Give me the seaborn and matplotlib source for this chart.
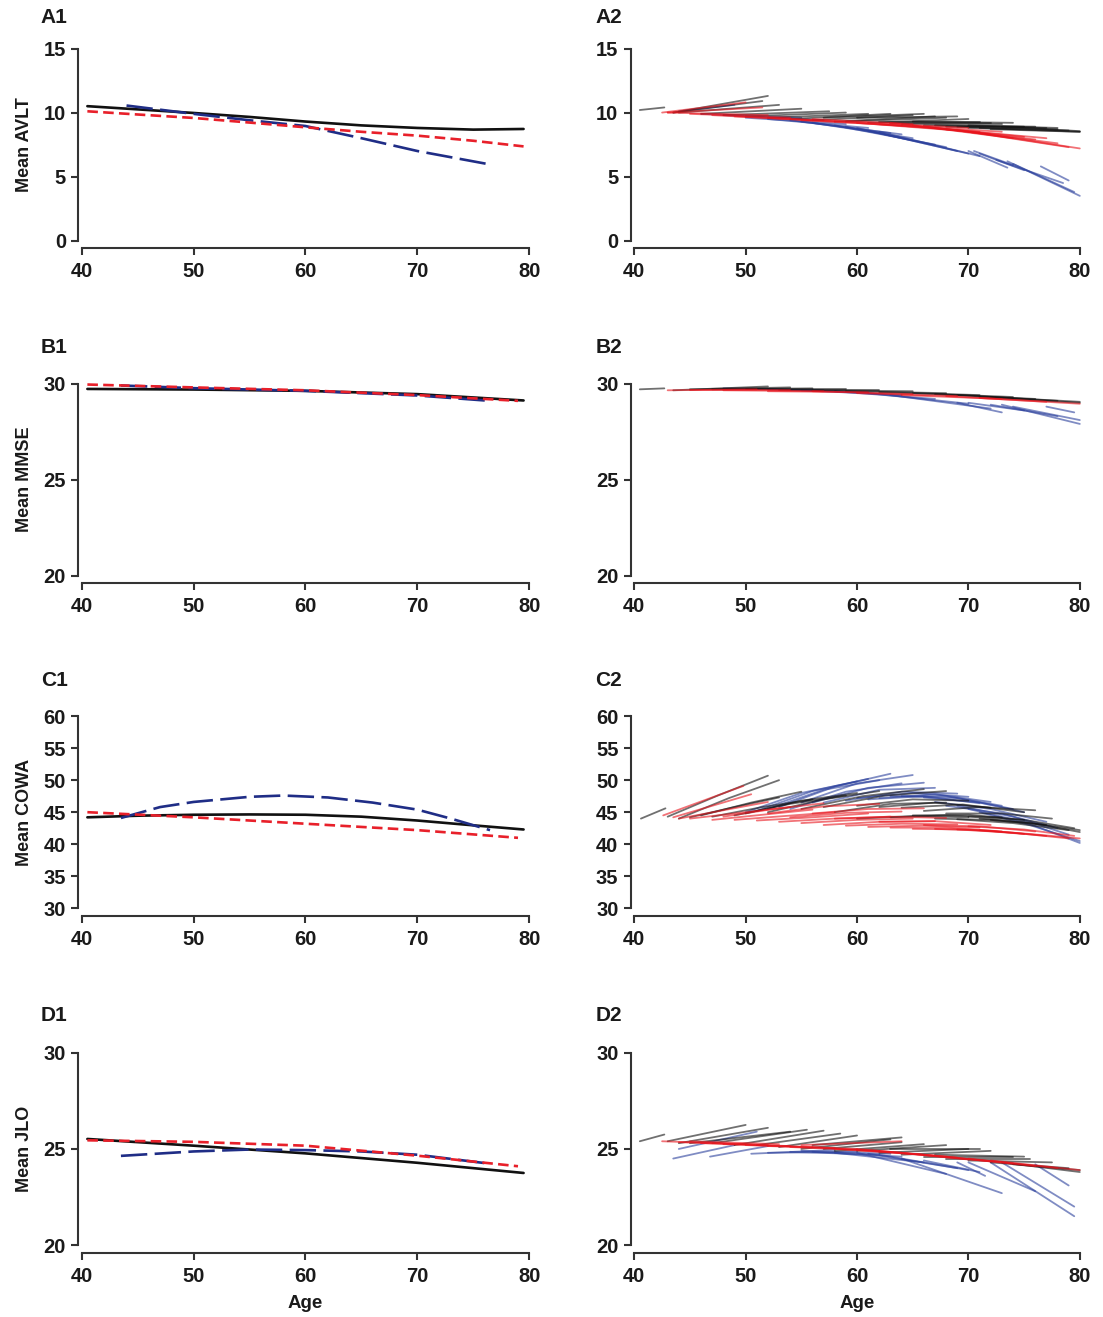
import pandas as pd
import seaborn as sns
import matplotlib.pyplot as plt

# ---------------- left column: group mean curves (ages, values) ----------------
A1_BLACK = ([40.5, 45, 50, 55, 60, 65, 70, 75, 79.5], [10.5, 10.25, 9.97, 9.66, 9.3, 9.0, 8.8, 8.67, 8.72])
A1_RED = ([40.5, 45, 50, 55, 60, 65, 70, 75, 79.5], [10.1, 9.85, 9.58, 9.22, 8.85, 8.5, 8.2, 7.8, 7.36])
A1_BLUE = ([44, 50, 55, 60, 65, 70, 76.5], [10.55, 9.9, 9.4, 8.95, 8.0, 7.0, 5.95])

B1_BLACK = ([40.5, 50, 60, 70, 79.5], [29.72, 29.69, 29.62, 29.45, 29.12])
B1_RED = ([40.5, 50, 60, 70, 79], [29.95, 29.8, 29.65, 29.4, 29.1])
B1_BLUE = ([43.5, 50, 60, 70, 76.5], [29.9, 29.76, 29.62, 29.38, 29.1])

C1_BLACK = ([40.5, 45, 50, 55, 60, 65, 70, 75, 79.5], [44.2, 44.45, 44.6, 44.65, 44.6, 44.3, 43.7, 42.95, 42.3])
C1_RED = ([40.5, 50, 60, 70, 79], [45.0, 44.2, 43.2, 42.2, 41.0])
C1_BLUE = ([43.5, 47, 50, 55, 58, 62, 66, 70, 73, 76.5], [44.1, 45.8, 46.6, 47.4, 47.6, 47.3, 46.5, 45.4, 44.0, 42.2])

D1_BLACK = ([40.5, 50, 60, 70, 79.5], [25.52, 25.17, 24.77, 24.28, 23.75])
D1_RED = ([40.5, 50, 60, 70, 79], [25.45, 25.37, 25.17, 24.65, 24.1])
D1_BLUE = ([43.5, 50, 55, 60, 65, 70, 76.5], [24.64, 24.87, 24.97, 24.94, 24.87, 24.7, 24.23])

# ---------------- right column: individual trajectories (ages, values) ----------------
A2_BLACK = [
    ((40.5, 42.7), (10.2, 10.4)), ((43.5, 52.0), (10.0, 11.3)), ((43.5, 51.5), (10.0, 10.9)),
    ((44, 53), (10.0, 10.6)), ((46, 55), (9.9, 10.3)), ((48, 57.5), (9.8, 10.1)),
    ((50, 59), (9.7, 10.0)), ((52, 61), (9.6, 9.9)), ((54, 63), (9.5, 9.9)),
    ((56, 65), (9.4, 9.8)), ((58, 67), (9.3, 9.7)), ((59, 68), (9.3, 9.6)),
    ((61, 70), (9.2, 9.5)), ((62, 71), (9.3, 9.3)), ((63, 72), (9.2, 9.2)),
    ((64, 73), (9.1, 9.1)), ((66, 75), (9.0, 8.9)), ((67, 76), (9.0, 8.9)),
    ((68, 77), (8.9, 8.8)), ((69, 78), (8.9, 8.7)), ((70, 79), (8.8, 8.6)),
    ((71, 80), (8.8, 8.5)), ((72, 80), (8.7, 8.5)), ((60, 69), (9.6, 9.7)),
    ((65, 74), (9.3, 9.2)), ((57, 66), (9.6, 9.9)), ((70, 78), (9.0, 8.8)),
    ((73, 80), (8.9, 8.55)),
]
A2_RED = [
    ((42.5, 50), (10.0, 10.8)), ((43, 51.5), (10.0, 10.4)), ((43, 52), (10.0, 9.8)),
    ((45, 54), (9.9, 9.6)), ((47, 56), (9.8, 9.4)), ((49, 58), (9.7, 9.3)),
    ((52, 61), (9.6, 9.2)), ((55, 64), (9.4, 9.0)), ((58, 67), (9.3, 8.8)),
    ((60, 69), (9.2, 8.6)), ((62, 71), (9.1, 8.5)), ((63, 72), (9.2, 8.3)),
    ((65, 74), (9.0, 8.0)), ((66, 75), (8.9, 8.1)), ((67, 76), (8.8, 7.9)),
    ((69, 78), (8.6, 7.6)), ((70, 79), (8.5, 7.3)), ((71, 80), (8.4, 7.2)),
    ((56, 65), (9.5, 9.1)), ((61, 70), (9.2, 8.8)), ((68, 77), (8.7, 8.0)),
    ((64, 73), (9.0, 8.5)),
]
A2_BLUE = [
    ((44, 49), (10.1, 10.6)), ((48, 57), (9.8, 9.4)), ((50, 59), (9.6, 9.1)),
    ((52, 61), (9.5, 8.8)), ((54, 63), (9.4, 8.4)), ((56, 65), (9.2, 8.0)),
    ((58, 67), (9.0, 7.5)), ((60, 69), (8.8, 7.0)), ((61, 70), (8.6, 6.8)),
    ((62, 71), (8.5, 6.6)), ((70, 73.5), (7.0, 5.7)), ((70.5, 74), (7.0, 5.9)),
    ((71, 75), (6.8, 5.5)), ((72.5, 78.5), (6.3, 4.5)), ((73.5, 80), (6.2, 3.5)),
    ((74, 79.5), (6.0, 3.8)), ((76.5, 79), (5.8, 4.7)), ((46, 55), (9.9, 9.6)),
    ((55, 64), (9.3, 8.3)), ((59, 68), (8.9, 7.3)),
]

B2_BLACK = [
    ((40.5, 42.7), (29.7, 29.75)), ((43.5, 52), (29.65, 29.85)), ((45, 54), (29.7, 29.8)),
    ((47, 56), (29.7, 29.75)), ((50, 59), (29.7, 29.7)), ((53, 62), (29.65, 29.65)),
    ((56, 65), (29.65, 29.6)), ((59, 68), (29.6, 29.5)), ((62, 71), (29.55, 29.4)),
    ((65, 74), (29.5, 29.3)), ((67, 76), (29.45, 29.2)), ((69, 78), (29.4, 29.1)),
    ((71, 80), (29.3, 29.0)), ((72, 80), (29.3, 29.05)),
]
B2_RED = [
    ((43, 51), (29.65, 29.7)), ((45, 54), (29.65, 29.65)), ((48, 57), (29.65, 29.6)),
    ((52, 61), (29.6, 29.55)), ((56, 65), (29.6, 29.45)), ((60, 69), (29.5, 29.35)),
    ((64, 73), (29.4, 29.2)), ((68, 77), (29.35, 29.05)), ((71, 80), (29.25, 28.95)),
]
B2_BLUE = [
    ((48, 57), (29.75, 29.65)), ((52, 61), (29.7, 29.55)), ((55, 64), (29.65, 29.4)),
    ((58, 67), (29.6, 29.2)), ((61, 70), (29.5, 28.95)), ((63, 72), (29.4, 28.7)),
    ((69, 73), (29.0, 28.5)), ((70, 75), (29.0, 28.6)), ((72, 78), (28.9, 28.3)),
    ((73, 80), (28.9, 27.9)), ((74, 80), (28.8, 28.1)), ((77, 79.5), (28.8, 28.5)),
]

C2_BLACK = [
    ((40.6, 42.8), (44.0, 45.6)), ((43.0, 47.5, 52.0), (44.3, 47.6, 50.7)),
    ((44.0, 48.5, 53.0), (44.0, 47.2, 50.0)), ((45, 49, 53), (44.2, 45.8, 47.3)),
    ((47, 51.5, 56), (44.3, 45.8, 47.0)), ((49, 54, 59), (44.5, 46.3, 47.6)),
    ((52, 57, 62), (45.0, 47.0, 48.3)), ((55, 60.5, 66), (45.5, 47.5, 48.6)),
    ((57, 62.5, 68), (45.8, 47.6, 48.3)), ((60, 65, 70), (46.0, 47.0, 46.8)),
    ((62, 67, 72), (45.8, 46.5, 45.7)), ((64, 69.5, 75), (45.7, 46.2, 45.0)),
    ((66, 71, 76), (45.2, 45.8, 45.3)), ((68, 73, 77.5), (44.8, 44.8, 44.0)),
    ((70, 75, 79.5), (44.3, 43.8, 42.5)), ((71, 75.5, 80), (44.0, 43.4, 41.9)),
    ((72, 76, 80), (43.8, 43.2, 42.2)), ((63, 68, 73), (44.2, 44.5, 44.2)),
    ((60, 65, 70), (44.0, 44.4, 44.2)), ((46, 50.5, 55), (44.5, 46.5, 48.2)),
    ((50, 55, 60), (44.8, 46.8, 48.0)), ((58, 63, 68), (45.0, 46.3, 46.5)),
    ((65, 70, 75), (44.5, 44.6, 43.8)), ((67, 72, 77), (44.0, 43.8, 43.0)),
    ((69, 74, 79), (43.9, 43.3, 42.2)),
]
C2_RED = [
    ((42.6, 46.2, 49.8), (44.5, 46.8, 49.1)), ((43.5, 47, 50.5), (44.2, 46.0, 47.8)),
    ((44, 48, 52), (44.0, 45.3, 46.6)), ((45, 49.5, 54), (44.0, 44.9, 45.8)),
    ((47, 51.5, 56), (43.8, 44.6, 45.4)), ((49, 53.5, 58), (43.8, 44.4, 45.0)),
    ((51, 56, 61), (43.7, 44.2, 44.8)), ((53, 58, 63), (43.5, 44.0, 44.3)),
    ((55, 60, 65), (43.3, 43.8, 44.0)), ((57, 62, 67), (43.0, 43.5, 43.6)),
    ((59, 64, 69), (42.9, 43.2, 43.1)), ((61, 66, 71), (42.7, 42.9, 42.6)),
    ((63, 68, 73), (42.6, 42.6, 42.0)), ((65, 70, 75), (42.4, 42.3, 41.6)),
    ((67, 72, 77), (42.4, 42.1, 41.3)), ((69, 74, 79), (42.3, 41.8, 40.9)),
    ((71, 75.5, 80), (42.2, 41.6, 40.9)), ((52, 57, 62), (44.8, 45.9, 46.3)),
    ((56, 61, 66), (44.8, 45.5, 45.6)), ((48, 52.5, 57), (44.3, 45.5, 46.4)),
    ((54, 59, 64), (44.2, 44.9, 45.1)), ((58, 63, 68), (44.0, 44.3, 44.1)),
    ((62, 67, 72), (43.5, 43.6, 43.0)), ((66, 71, 76), (43.0, 42.8, 42.0)),
    ((70, 75, 79.5), (42.8, 42.3, 41.3)),
]
C2_BLUE = [
    ((50, 55, 60), (45.0, 48.0, 49.8)), ((51, 56, 61), (45.2, 48.3, 50.2)),
    ((53, 58, 63), (45.8, 49.0, 51.0)), ((55, 60, 65), (46.5, 49.5, 50.8)),
    ((54, 59, 64), (45.5, 48.2, 49.5)), ((57, 62, 67), (46.5, 48.5, 48.8)),
    ((59, 64, 69), (46.8, 48.2, 47.9)), ((62, 67, 72), (47.2, 47.8, 46.6)),
    ((64, 69, 74), (47.5, 47.2, 45.5)), ((66, 71, 75), (47.3, 46.5, 45.0)),
    ((68, 73, 78), (46.0, 44.8, 42.5)), ((70, 75, 80), (45.5, 43.5, 40.2)),
    ((71, 75.5, 80), (45.0, 43.0, 40.5)), ((61, 66, 71), (47.0, 47.5, 46.4)),
    ((52, 57, 62), (45.5, 48.5, 50.0)), ((56, 61, 66), (46.5, 48.8, 49.6)),
    ((60, 65, 70), (47.2, 48.0, 47.4)), ((63, 68, 73), (47.5, 47.5, 46.0)),
    ((67, 72, 77), (46.6, 45.5, 43.5)), ((69, 74, 79), (46.0, 44.3, 41.5)),
]

D2_BLACK = [
    ((40.5, 42.7), (25.4, 25.75)), ((43, 50), (25.4, 26.25)), ((44, 52), (25.3, 26.1)),
    ((45, 54), (25.3, 25.9)), ((47, 55.5), (25.3, 26.0)), ((49, 57), (25.2, 25.95)),
    ((51, 58.5), (25.2, 25.8)), ((53, 60), (25.1, 25.7)), ((55, 63), (25.0, 25.5)),
    ((57, 64), (25.0, 25.35)), ((58, 66), (24.9, 25.25)), ((60, 68), (24.9, 25.2)),
    ((62, 70), (24.8, 25.0)), ((64, 72), (24.7, 24.9)), ((66, 74), (24.6, 24.6)),
    ((68, 75.5), (24.5, 24.5)), ((70, 77.5), (24.4, 24.3)), ((72, 79), (24.3, 24.0)),
    ((73, 80), (24.3, 23.8)), ((74, 80), (24.2, 23.9)), ((56, 64), (25.2, 25.6)),
    ((63, 71), (25.0, 25.0)), ((67, 75), (24.7, 24.6)),
]
D2_RED = [
    ((42.5, 50), (25.4, 25.25)), ((44, 52), (25.35, 25.2)), ((46, 54), (25.3, 25.15)),
    ((48, 56), (25.25, 25.1)), ((50, 58), (25.2, 25.05)), ((52, 60), (25.15, 25.0)),
    ((54, 62), (25.1, 24.9)), ((56, 64), (25.1, 24.8)), ((58, 66), (25.0, 24.7)),
    ((60, 68), (24.95, 24.6)), ((62, 70), (24.9, 24.45)), ((64, 72), (24.8, 24.35)),
    ((66, 74), (24.7, 24.25)), ((68, 76), (24.6, 24.1)), ((70, 78), (24.5, 24.0)),
    ((72, 80), (24.4, 23.9)), ((55, 64), (25.2, 25.4)), ((45, 53), (25.4, 25.25)),
    ((60, 69), (25.0, 24.55)),
]
D2_BLUE = [
    ((43.5, 49), (24.5, 25.2)), ((46.8, 52), (24.6, 25.15)), ((44, 51), (25.0, 25.9)),
    ((50.5, 58), (24.75, 24.95)), ((52, 60), (24.8, 24.85)), ((54, 62), (24.85, 24.7)),
    ((56, 64), (24.85, 24.6)), ((58, 66), (24.8, 24.3)), ((60, 68), (24.8, 23.7)),
    ((62, 70), (24.7, 23.9)), ((64, 73), (24.5, 22.7)), ((66, 71), (24.4, 23.8)),
    ((69, 71.5), (24.3, 23.6)), ((70, 76), (24.3, 22.8)), ((72, 79.5), (24.3, 21.5)),
    ((73, 79.5), (24.3, 22.0)), ((76, 79), (24.2, 23.1)), ((55, 63), (24.9, 24.75)),
    ((61, 69), (24.75, 24.0)),
]

ROW_LABELS = ["Mean AVLT", "Mean MMSE", "Mean COWA", "Mean JLO"]
ROW_LIMITS = [(0, 15), (20, 30), (30, 60), (20, 30)]
ROW_TICKS = [[0, 5, 10, 15], [20, 25, 30], [30, 35, 40, 45, 50, 55, 60], [20, 25, 30]]
AGE_TICKS = [40, 50, 60, 70, 80]

MEANS = [
    {"black": A1_BLACK, "blue": A1_BLUE, "red": A1_RED},
    {"black": B1_BLACK, "blue": B1_BLUE, "red": B1_RED},
    {"black": C1_BLACK, "blue": C1_BLUE, "red": C1_RED},
    {"black": D1_BLACK, "blue": D1_BLUE, "red": D1_RED},
]
INDIVIDUALS = [
    {"blue": A2_BLUE, "black": A2_BLACK, "red": A2_RED},
    {"blue": B2_BLUE, "black": B2_BLACK, "red": B2_RED},
    {"blue": C2_BLUE, "black": C2_BLACK, "red": C2_RED},
    {"blue": D2_BLUE, "black": D2_BLACK, "red": D2_RED},
]

MEAN_PAL = {"black": "#111111", "red": "#e8202a", "blue": "#1f2d86"}
IND_PAL = {"black": "#111111", "red": "#e8141c", "blue": "#2a3f9c"}
AXIS_COLOR = "#333333"

sns.set_style("ticks")
plt.rcParams["font.family"] = ["Liberation Sans", "DejaVu Sans"]
plt.rcParams["font.weight"] = "bold"


def mean_frame(groups):
    rows = []
    for group, (ages, vals) in groups.items():
        for a, v in zip(ages, vals):
            rows.append((group, a, v))
    return pd.DataFrame(rows, columns=["group", "age", "value"])


def spaghetti_frame(groups):
    rows = []
    for group, trajs in groups.items():
        for i, (ages, vals) in enumerate(trajs):
            for a, v in zip(ages, vals):
                rows.append((group, f"{group}{i}", a, v))
    return pd.DataFrame(rows, columns=["group", "id", "age", "value"])


def style_axis(ax, lims, yticks):
    pad = (lims[1] - lims[0]) * 0.04
    ax.set_xlim(39.7, 80.3)
    ax.set_ylim(lims[0] - pad, lims[1] + pad)
    ax.set_xticks(AGE_TICKS)
    ax.set_yticks(yticks)
    sns.despine(ax=ax)
    ax.spines["left"].set_bounds(*lims)
    ax.spines["bottom"].set_bounds(40, 80)
    for s in ["left", "bottom"]:
        ax.spines[s].set_linewidth(1.5)
        ax.spines[s].set_color(AXIS_COLOR)
    ax.tick_params(length=5, width=1.5, color=AXIS_COLOR, labelsize=14.5, labelcolor="#1a1a1a")
    ax.tick_params(axis="x", pad=5)
    ax.tick_params(axis="y", pad=4)
    ax.set_xlabel("")
    ax.set_ylabel("")


fig = plt.figure(figsize=(11.03, 13.17), dpi=100)
bottoms = [0.8114, 0.557, 0.3045, 0.0488]
height = 0.1576
tags = ["A", "B", "C", "D"]
label_y = [0.987, 0.7365, 0.483, 0.2286]

for r in range(4):
    ax1 = fig.add_axes([0.0711, bottoms[r], 0.4117, height])
    ax2 = fig.add_axes([0.572, bottoms[r], 0.410, height])

    md = mean_frame(MEANS[r])
    sns.lineplot(
        data=md, x="age", y="value", hue="group", style="group",
        palette=MEAN_PAL,
        dashes={"black": "", "red": (4, 2), "blue": (10, 2.8)},
        linewidth=1.9, legend=False, sort=False, ax=ax1,
    )

    sd = spaghetti_frame(INDIVIDUALS[r])
    sns.lineplot(
        data=sd, x="age", y="value", hue="group", units="id",
        estimator=None, palette=IND_PAL, linewidth=1.3, alpha=0.6,
        legend=False, sort=False, ax=ax2,
    )

    for ax in (ax1, ax2):
        style_axis(ax, ROW_LIMITS[r], ROW_TICKS[r])

    ax1.set_ylabel(ROW_LABELS[r], fontsize=13, fontweight="bold", color="#1a1a1a")
    ax1.yaxis.set_label_coords(-0.101, 0.5)

    fig.text(0.037, label_y[r], f"{tags[r]}1", fontsize=15, fontweight="bold",
             ha="left", va="center", color="#1a1a1a")
    fig.text(0.540, label_y[r], f"{tags[r]}2", fontsize=15, fontweight="bold",
             ha="left", va="center", color="#1a1a1a")

    if r == 3:
        for ax in (ax1, ax2):
            ax.set_xlabel("Age", fontsize=13.5, fontweight="bold", color="#1a1a1a")
            ax.xaxis.set_label_coords(0.5, -0.205)

fig.savefig("out.png", dpi=100)
